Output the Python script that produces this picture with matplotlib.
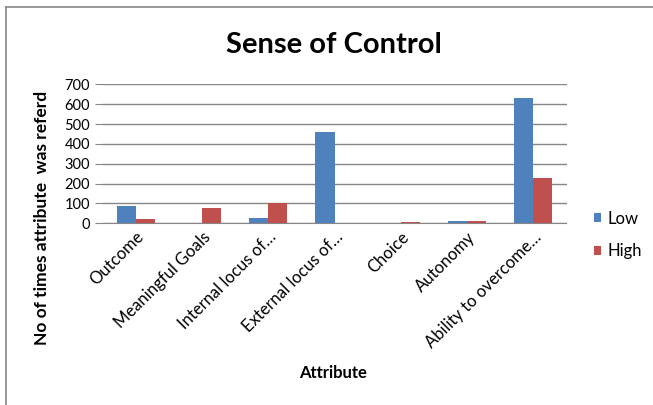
import matplotlib
matplotlib.use("Agg")
import matplotlib.pyplot as plt
from matplotlib.lines import Line2D
import numpy as np

categories = ["Outcome", "Meaningful Goals", "Internal locus of\u2026",
              "External locus of\u2026", "Choice", "Autonomy",
              "Ability to overcome\u2026"]
low = [89, 0, 27, 460, 0, 12, 633]
high = [22, 77, 100, 0, 6, 12, 228]
yticks = [0, 100, 200, 300, 400, 500, 600, 700]

BLUE = "#4F81BD"
RED = "#C0504D"
GRID = "#868686"
FONT = ["Lato", "DejaVu Sans"]

W, H = 653, 405
fig = plt.figure(figsize=(W / 100, H / 100), dpi=100)
ax = fig.add_axes([102.5 / W, 1 - 223.3 / H, (566.5 - 102.5) / W, (223.3 - 84.3) / H])

x = np.arange(len(categories))
bw = 0.287
ax.bar(x - bw / 2, low, bw, color=BLUE, label="Low", zorder=3)
ax.bar(x + bw / 2, high, bw, color=RED, label="High", zorder=3)

ax.set_xlim(-0.5, len(categories) - 0.5)
ax.set_ylim(0, 700)
ax.set_yticks(yticks)
ax.set_yticklabels([str(v) for v in yticks], fontsize=10.5, family=FONT)
ax.yaxis.grid(True, color=GRID, linewidth=1)
ax.set_axisbelow(True)
for s in ["top", "right", "left"]:
    ax.spines[s].set_visible(False)
ax.spines["bottom"].set_color(GRID)
ax.tick_params(axis="y", length=6, color=GRID, pad=3)
ax.tick_params(axis="x", length=0, pad=4)
ax.set_xticks(x)
ax.set_xticklabels(categories, rotation=45, ha="right", rotation_mode="anchor",
                   fontsize=12, family=FONT)

fig.text(333 / W, 1 - 373 / H, "Attribute", ha="center", va="center",
         fontsize=12, fontweight="bold", family=FONT)
fig.text(42 / W, 1 - 218 / H, "No of times attribute  was referd", rotation=90,
         ha="center", va="center", fontsize=12.5, fontweight="bold", family=FONT)
fig.text(334 / W, 1 - 45 / H, "Sense of Control", ha="center", va="center",
         fontsize=21, fontweight="bold", family=FONT)

ax.legend(loc="center left", bbox_to_anchor=(582 / W, 1 - 235 / H),
          bbox_transform=fig.transFigure, frameon=False,
          prop={"family": FONT, "size": 12}, handlelength=0.45, handleheight=0.45,
          handletextpad=0.4, labelspacing=1.0, borderpad=0.2)

# chart frame
fig.add_artist(Line2D([6 / W, 6 / W], [0, 1 - 7 / H], transform=fig.transFigure,
                      color=GRID, linewidth=1.2))
fig.add_artist(Line2D([6 / W, 1], [1 - 7 / H, 1 - 7 / H], transform=fig.transFigure,
                      color=GRID, linewidth=1.2))

fig.savefig("out.png", dpi=100)
